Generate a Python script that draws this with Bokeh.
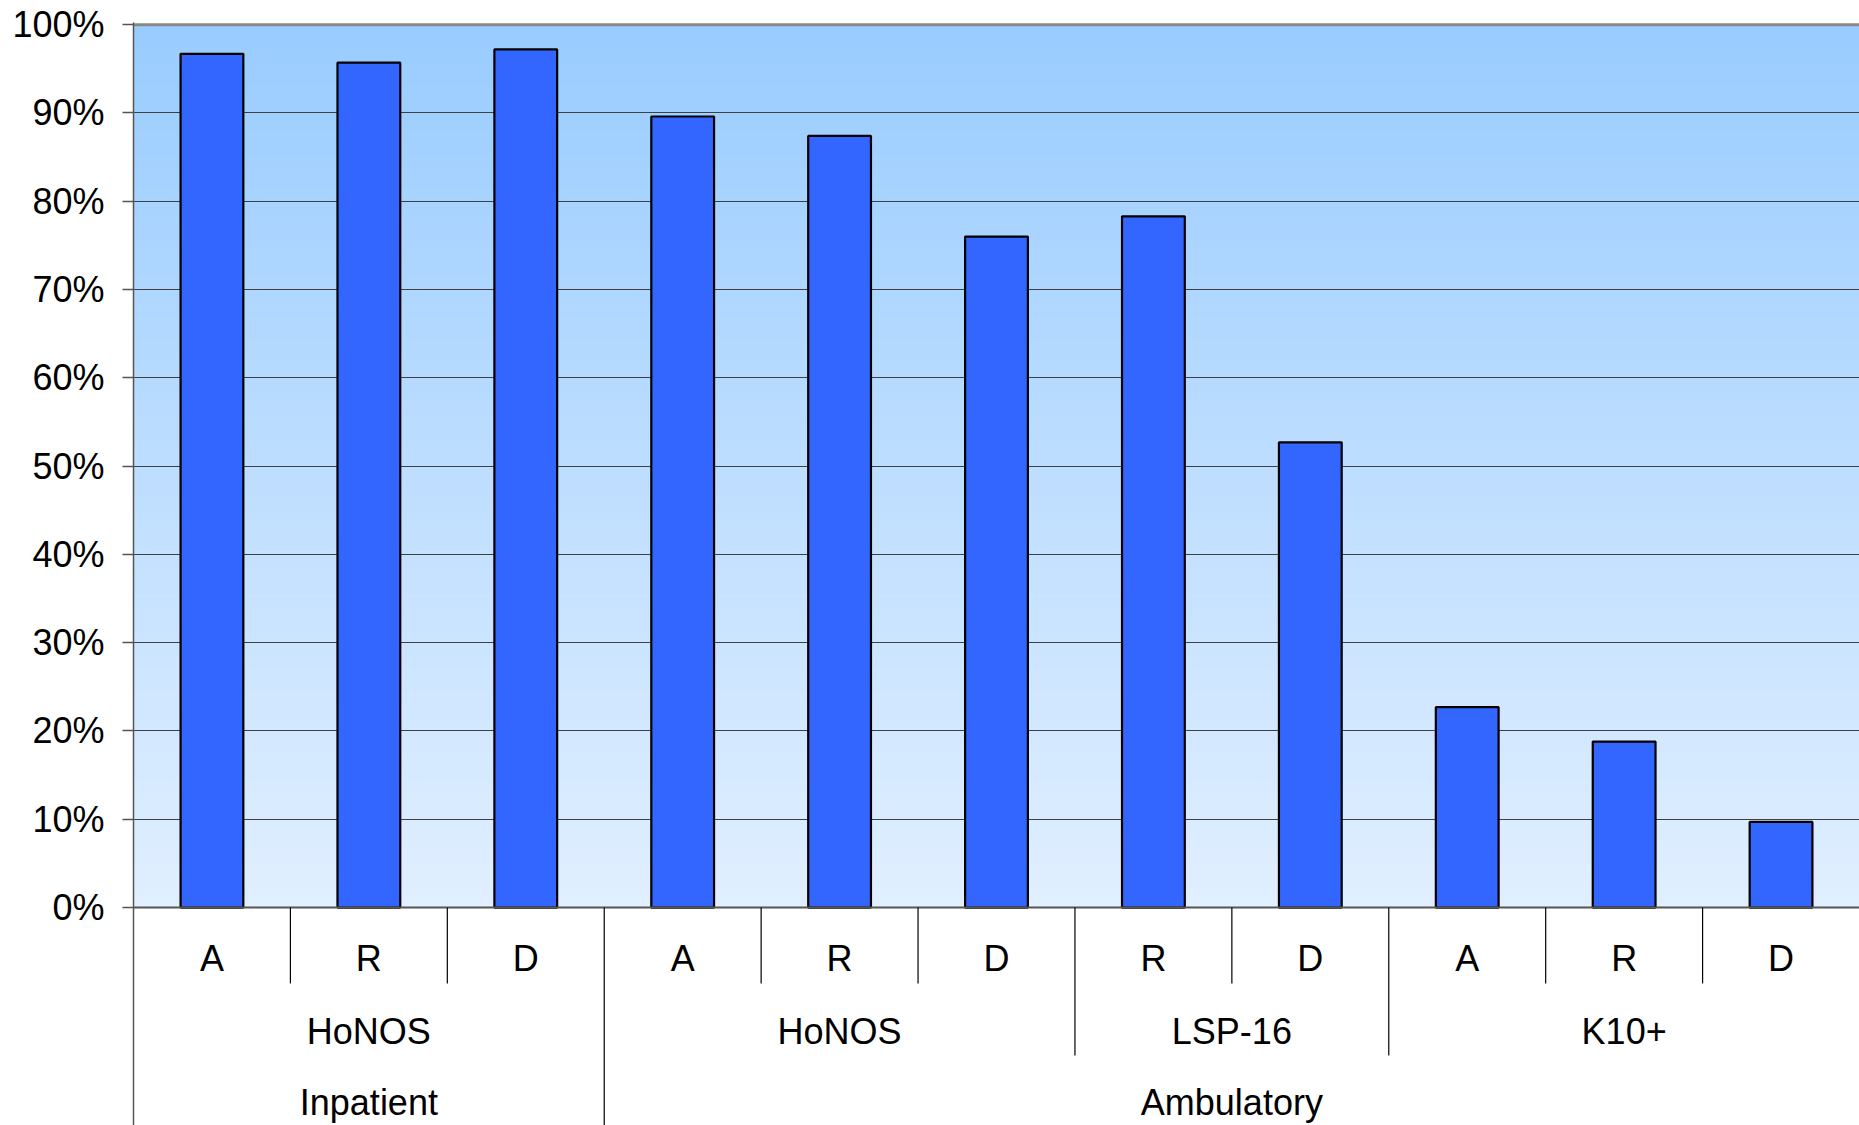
import numpy as np
from bokeh.plotting import figure
from bokeh.models import Range1d, FixedTicker, PrintfTickFormatter
from bokeh.core.properties import value
from bokeh.embed import file_html
from bokeh.resources import INLINE

# ---- data ----
settings = ["Inpatient"] * 3 + ["Ambulatory"] * 8
measures = ["HoNOS"] * 3 + ["HoNOS"] * 3 + ["LSP-16"] * 2 + ["K10+"] * 3
stages = ["A", "R", "D", "A", "R", "D", "R", "D", "A", "R", "D"]
values = [96.7, 95.7, 97.2, 89.6, 87.4, 76.0, 78.3, 52.7, 22.7, 18.8, 9.7]
y_ticks = list(range(0, 101, 10))

FONT = "Liberation Sans"
FS = "36px"

n = len(values)
xs = list(range(n))

p = figure(width=1859, height=1125, output_backend="svg", toolbar_location=None,
           x_range=Range1d(-0.5, 10.5), y_range=Range1d(-24.69, 100.25),
           x_axis_location=None, min_border_left=133, min_border_top=22,
           min_border_right=0, min_border_bottom=0)
p.outline_line_color = None
p.background_fill_color = "white"
p.border_fill_color = "white"
p.xgrid.visible = False
p.ygrid.ticker = FixedTicker(ticks=y_ticks[1:-1])
p.ygrid.grid_line_color = "#404040"
p.ygrid.grid_line_width = 1.2

ax = p.yaxis[0]
ax.ticker = FixedTicker(ticks=y_ticks)
ax.formatter = PrintfTickFormatter(format="%d%%")
ax.major_label_text_font = FONT
ax.major_label_text_font_size = FS
ax.major_label_text_color = "black"
ax.major_tick_out = 11
ax.major_tick_in = 0
ax.minor_tick_out = 0
ax.minor_tick_in = 0
ax.major_tick_line_color = "#555555"
ax.major_tick_line_width = 1.5
ax.axis_line_color = "#555555"
ax.axis_line_width = 1.5
ax.major_label_standoff = 18

# ---- gradient background (plot area only, 0..100) ----
nb = 200
edges = np.linspace(0, 100, nb + 1)
bot_rgb = np.array([225, 239, 255])
top_rgb = np.array([153, 204, 255])
cols = []
for i in range(nb):
    t = (edges[i] + edges[i + 1]) / 200.0
    c = bot_rgb + (top_rgb - bot_rgb) * t
    cols.append("#%02x%02x%02x" % tuple(int(round(v)) for v in c))
p.quad(left=-0.5, right=11, bottom=edges[:-1], top=edges[1:],
       fill_color=cols, line_color=cols, line_width=1, level="image")

# top border
p.segment(x0=-0.5, y0=100, x1=11, y1=100, line_color="#888888", line_width=3)

# bars
p.vbar(x=xs, width=0.4, bottom=0, top=values, fill_color="#3366FF",
       line_color="black", line_width=2.2)

# zero line
p.segment(x0=-0.5, y0=0, x1=11, y1=0, line_color="#555555", line_width=2)

# ---- multi-level category axis drawn by hand ----
Y1, Y2, Y3 = -5.77, -14.09, -22.14
L1, L2, L3 = -8.6, -16.75, -26

p.text(x=xs, y=[Y1] * n, text=stages, text_font=value(FONT), text_font_size=FS,
       text_align="center", text_baseline="middle", text_color="black")

meas_runs = []
start = 0
for i in range(1, n + 1):
    if i == n or measures[i] != measures[start] or settings[i] != settings[start]:
        meas_runs.append((start, i - 1, measures[start]))
        start = i
set_runs = []
start = 0
for i in range(1, n + 1):
    if i == n or settings[i] != settings[start]:
        set_runs.append((start, i - 1, settings[start]))
        start = i

p.text(x=[(a + b) / 2 for a, b, _ in meas_runs], y=[Y2] * len(meas_runs),
       text=[t for _, _, t in meas_runs], text_font=value(FONT), text_font_size=FS,
       text_align="center", text_baseline="middle", text_color="black")
p.text(x=[(a + b) / 2 for a, b, _ in set_runs], y=[Y3] * len(set_runs),
       text=[t for _, _, t in set_runs], text_font=value(FONT), text_font_size=FS,
       text_align="center", text_baseline="middle", text_color="black")

set_bounds = set(b + 0.5 for _, b, _ in set_runs[:-1])
meas_bounds = set(b + 0.5 for _, b, _ in meas_runs[:-1])
sx, sy = [], []
for k in range(n - 1):
    xb = k + 0.5
    if xb in set_bounds:
        yb = L3
    elif xb in meas_bounds:
        yb = L2
    else:
        yb = L1
    sx.append(xb)
    sy.append(yb)
p.segment(x0=sx, y0=[0] * len(sx), x1=sx, y1=sy, line_color="black", line_width=1.2)

open("out.html", "w").write(file_html(p, INLINE))
